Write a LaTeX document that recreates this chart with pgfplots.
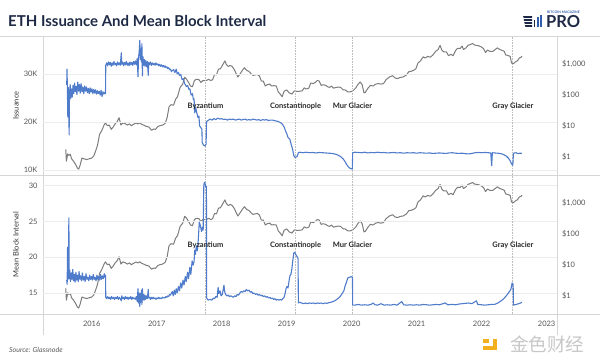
\documentclass[border=0pt]{standalone}
\usepackage{pgfplots}
\usepackage{pgfplotstable}
\pgfplotsset{compat=1.18}
\usepackage{fontspec}
\setmainfont{Lato}
\newfontfamily\cjk{Noto Sans CJK SC}
\definecolor{ethblue}{HTML}{4F7BCB}
\definecolor{ethgrey}{HTML}{7C7C7C}
\definecolor{titlecol}{HTML}{1E2A45}
\definecolor{framecol}{HTML}{D6D6D6}
\definecolor{gridcol}{HTML}{ECECEC}
\definecolor{dotcol}{HTML}{BDBDBD}
\definecolor{tickcol}{HTML}{555555}
\definecolor{logoblue}{HTML}{2F5DB0}
\definecolor{wmyellow}{HTML}{F2B01E}

\pgfplotstableread{
year price
2015.600 1.8
2015.610 0.75
2015.630 1.3
2015.650 1.15
2015.670 1.25
2015.690 0.9
2015.720 0.75
2015.750 0.6
2015.780 0.45
2015.800 0.42
2015.820 0.55
2015.850 0.95
2015.880 0.9
2015.920 0.85
2015.960 0.9
2016.000 0.95
2016.030 1.1
2016.060 1.6
2016.090 2.5
2016.120 5.5
2016.150 7
2016.190 11
2016.210 13
2016.240 10.5
2016.270 11
2016.300 8
2016.330 9.5
2016.360 12
2016.390 14
2016.420 19
2016.450 11
2016.480 13
2016.520 12
2016.550 11
2016.580 12
2016.610 10.5
2016.640 11.5
2016.680 12.8
2016.710 12
2016.740 13
2016.770 11.5
2016.800 11
2016.840 10
2016.880 9.5
2016.920 7.5
2016.950 8.2
2016.980 8
2017.020 10
2017.050 10.5
2017.090 11
2017.130 12.5
2017.160 19
2017.190 43
2017.220 50
2017.260 48
2017.290 75
2017.320 90
2017.360 180
2017.400 230
2017.430 380
2017.460 330
2017.490 260
2017.520 200
2017.550 190
2017.580 300
2017.610 330
2017.650 320
2017.680 260
2017.710 300
2017.740 300
2017.770 305
2017.800 330
2017.830 300
2017.860 320
2017.890 470
2017.920 460
2017.950 700
2017.980 720
2018.020 1000
2018.050 1300
2018.070 1000
2018.100 850
2018.130 920
2018.160 860
2018.190 700
2018.220 520
2018.250 390
2018.290 520
2018.320 650
2018.350 780
2018.380 650
2018.420 590
2018.450 500
2018.480 440
2018.520 460
2018.550 470
2018.580 420
2018.610 290
2018.640 290
2018.670 200
2018.700 220
2018.740 230
2018.770 200
2018.800 205
2018.840 200
2018.870 130
2018.900 110
2018.930 90
2018.960 135
2019.000 150
2019.040 120
2019.080 110
2019.120 140
2019.150 135
2019.190 135
2019.240 140
2019.270 175
2019.300 160
2019.340 170
2019.370 250
2019.410 240
2019.440 260
2019.470 300
2019.500 290
2019.530 210
2019.560 220
2019.600 210
2019.630 190
2019.660 180
2019.690 200
2019.720 170
2019.760 180
2019.800 185
2019.830 180
2019.870 150
2019.900 150
2019.940 130
2019.980 130
2020.020 140
2020.060 170
2020.100 230
2020.130 270
2020.160 225
2020.190 120
2020.210 125
2020.250 170
2020.290 210
2020.330 200
2020.370 230
2020.410 240
2020.450 230
2020.490 240
2020.530 320
2020.580 390
2020.630 430
2020.670 360
2020.710 350
2020.750 380
2020.790 390
2020.840 450
2020.880 580
2020.920 600
2020.960 650
2020.990 730
2021.020 1100
2021.060 1300
2021.100 1750
2021.130 1600
2021.170 1800
2021.210 1700
2021.250 2000
2021.290 2600
2021.330 3000
2021.360 4100
2021.390 2800
2021.420 2500
2021.460 2500
2021.490 1900
2021.530 2100
2021.560 1900
2021.600 2800
2021.630 3300
2021.670 3250
2021.700 3900
2021.720 3000
2021.760 3400
2021.790 4100
2021.820 4300
2021.860 4700
2021.890 4200
2021.920 4100
2021.950 4000
2021.990 3700
2022.030 3200
2022.060 2400
2022.090 2900
2022.130 2600
2022.170 2600
2022.210 3000
2022.240 3400
2022.280 3000
2022.320 2800
2022.350 2600
2022.370 2000
2022.400 1950
2022.440 1800
2022.460 1100
2022.490 1050
2022.520 1200
2022.550 1300
2022.580 1600
2022.610 1700
2022.620 1850
}\pricetab

\pgfplotstableread{
year iss
2015.615 27700
2015.620 31000
2015.625 27000
2015.632 21000
2015.638 27200
2015.645 26400
2015.652 17300
2015.658 25600
2015.668 27800
2015.678 24900
2015.690 26900
2015.700 25200
2015.712 27600
2015.724 25900
2015.736 28100
2015.748 26300
2015.760 27400
2015.772 25700
2015.785 28300
2015.798 26400
2015.810 27800
2015.823 26000
2015.836 28000
2015.850 26300
2015.864 27300
2015.878 25900
2015.892 27500
2015.906 26400
2015.920 27300
2015.934 26100
2015.948 27000
2015.962 25900
2015.976 27100
2015.990 26200
2016.004 26900
2016.018 25900
2016.032 26800
2016.046 26000
2016.060 26700
2016.074 25800
2016.088 26500
2016.102 25900
2016.116 26400
2016.130 25600
2016.144 26600
2016.158 25300
2016.172 26300
2016.186 25800
2016.200 26100
2016.212 25900
2016.216 31800
2016.230 32300
2016.244 31700
2016.258 32500
2016.272 31900
2016.286 32400
2016.300 31600
2016.314 32300
2016.328 31800
2016.342 32600
2016.356 31900
2016.370 32200
2016.384 31700
2016.398 32500
2016.412 31900
2016.426 32300
2016.440 31800
2016.455 34400
2016.462 32000
2016.476 32500
2016.490 31700
2016.504 32400
2016.518 31900
2016.532 32600
2016.546 31800
2016.560 32300
2016.574 31700
2016.588 32500
2016.602 31900
2016.616 32400
2016.630 31800
2016.644 32600
2016.658 32000
2016.672 32700
2016.686 31900
2016.700 33200
2016.712 29400
2016.720 33500
2016.730 34500
2016.740 37000
2016.748 33000
2016.756 35200
2016.764 32500
2016.772 36300
2016.780 29600
2016.788 33600
2016.798 31800
2016.808 33000
2016.818 31600
2016.830 32800
2016.842 31500
2016.856 32600
2016.870 29700
2016.876 32400
2016.890 31900
2016.904 32500
2016.918 31800
2016.932 32300
2016.946 31900
2016.960 32200
2016.974 31800
2016.988 32300
2017.002 31900
2017.016 32100
2017.030 31700
2017.044 32000
2017.058 31600
2017.072 31900
2017.086 31500
2017.100 31800
2017.114 31400
2017.128 31700
2017.142 31300
2017.156 31500
2017.170 31100
2017.184 31300
2017.198 30900
2017.212 31000
2017.226 30500
2017.240 30700
2017.260 30900
2017.280 30300
2017.300 31000
2017.315 30000
2017.335 30300
2017.350 29700
2017.370 29900
2017.390 28800
2017.410 29000
2017.430 28000
2017.455 27400
2017.475 27600
2017.495 26800
2017.510 26900
2017.530 25600
2017.550 25900
2017.565 24600
2017.575 24800
2017.585 21900
2017.600 23000
2017.615 22000
2017.635 20900
2017.650 21200
2017.660 19200
2017.680 18800
2017.695 18500
2017.700 15700
2017.720 15200
2017.745 15000
2017.760 15400
2017.766 20100
2017.790 20300
2017.820 20600
2017.850 20400
2017.880 20700
2017.910 20500
2017.940 20800
2017.970 20600
2018.000 20700
2018.030 20500
2018.060 20600
2018.090 20400
2018.120 20600
2018.150 20500
2018.180 20600
2018.210 20400
2018.240 20500
2018.270 20600
2018.300 20400
2018.330 20500
2018.360 20600
2018.390 20400
2018.420 20500
2018.450 20400
2018.480 20600
2018.510 20500
2018.540 20400
2018.570 20500
2018.600 20300
2018.630 20500
2018.660 20400
2018.690 20500
2018.720 20300
2018.750 20400
2018.780 20400
2018.810 20300
2018.840 20200
2018.870 20100
2018.900 19900
2018.930 19600
2018.960 19000
2018.980 18200
2019.000 17600
2019.020 16800
2019.050 16400
2019.070 15300
2019.090 14400
2019.110 13000
2019.130 12600
2019.160 12800
2019.180 13600
2019.200 13700
2019.250 13600
2019.300 13700
2019.350 13600
2019.400 13650
2019.450 13550
2019.500 13650
2019.550 13600
2019.600 13550
2019.650 13500
2019.700 13450
2019.750 13300
2019.790 13100
2019.830 12800
2019.870 12300
2019.900 11700
2019.930 11000
2019.960 10500
2019.985 10300
2020.010 10200
2020.016 13600
2020.050 13700
2020.100 13650
2020.150 13600
2020.200 13700
2020.250 13550
2020.300 13650
2020.350 13600
2020.400 13700
2020.450 13600
2020.500 13650
2020.550 13550
2020.600 13600
2020.650 13650
2020.700 13550
2020.750 13600
2020.800 13500
2020.850 13600
2020.900 13550
2020.950 13600
2021.000 13500
2021.050 13600
2021.100 13550
2021.150 13500
2021.200 13550
2021.250 13450
2021.300 13500
2021.350 13550
2021.400 13500
2021.450 13450
2021.500 13550
2021.550 13600
2021.600 13500
2021.650 13450
2021.700 13500
2021.750 13400
2021.800 13350
2021.850 13450
2021.900 13600
2021.950 13650
2022.000 13600
2022.050 13650
2022.100 13600
2022.140 13550
2022.155 10900
2022.165 13600
2022.200 13550
2022.250 13500
2022.300 13400
2022.340 13200
2022.380 12900
2022.410 12500
2022.440 11900
2022.460 11300
2022.480 11000
2022.490 13500
2022.530 13600
2022.560 13400
2022.590 13500
2022.620 13450
}\isstab

\pgfplotstableread{
year bt
2015.615 16.8
2015.622 16.2
2015.628 21.4
2015.634 16.9
2015.640 17.4
2015.648 25.5
2015.654 17.0
2015.662 18.2
2015.672 16.6
2015.684 17.8
2015.696 16.9
2015.708 18.3
2015.720 16.7
2015.732 17.6
2015.744 16.5
2015.756 17.9
2015.768 16.8
2015.780 17.5
2015.792 16.6
2015.805 18.0
2015.818 16.9
2015.830 17.4
2015.843 16.7
2015.856 17.8
2015.870 16.8
2015.884 17.3
2015.898 16.6
2015.912 17.7
2015.926 16.9
2015.940 17.2
2015.954 16.7
2015.968 17.5
2015.982 16.9
2015.996 17.3
2016.010 16.8
2016.024 17.6
2016.038 16.9
2016.052 17.2
2016.066 16.7
2016.080 17.5
2016.094 16.9
2016.108 17.3
2016.122 16.8
2016.136 17.6
2016.150 16.9
2016.164 17.4
2016.178 17.0
2016.192 17.7
2016.204 17.2
2016.212 17.5
2016.216 14.4
2016.230 14.2
2016.245 14.5
2016.260 14.2
2016.275 14.4
2016.290 14.1
2016.305 14.5
2016.320 14.2
2016.335 14.4
2016.350 14.1
2016.365 14.4
2016.380 14.2
2016.395 14.5
2016.410 14.1
2016.425 14.4
2016.440 14.2
2016.455 13.9
2016.462 14.6
2016.476 14.2
2016.490 14.4
2016.504 14.1
2016.518 14.5
2016.532 14.2
2016.546 14.4
2016.560 14.1
2016.574 14.4
2016.588 14.2
2016.602 14.5
2016.616 14.1
2016.630 14.4
2016.644 14.2
2016.658 14.3
2016.672 14.1
2016.686 14.5
2016.700 13.8
2016.712 15.6
2016.720 13.6
2016.730 15.0
2016.740 13.1
2016.748 14.9
2016.756 13.7
2016.764 15.4
2016.772 13.4
2016.780 15.6
2016.788 14.0
2016.798 14.8
2016.808 14.0
2016.818 14.7
2016.830 14.1
2016.842 14.6
2016.856 14.2
2016.870 15.5
2016.876 14.3
2016.890 14.4
2016.904 14.1
2016.918 14.4
2016.932 14.2
2016.946 14.4
2016.960 14.2
2016.974 14.3
2016.988 14.1
2017.002 14.3
2017.016 14.2
2017.030 14.4
2017.044 14.2
2017.058 14.3
2017.072 14.2
2017.086 14.4
2017.100 14.3
2017.114 14.4
2017.128 14.3
2017.142 14.5
2017.156 14.4
2017.170 14.6
2017.184 14.5
2017.198 14.8
2017.212 14.7
2017.226 15.0
2017.240 15.2
2017.255 14.6
2017.270 15.4
2017.285 14.8
2017.300 15.6
2017.315 15.0
2017.335 15.9
2017.350 15.3
2017.370 16.4
2017.385 15.7
2017.405 16.8
2017.420 16.1
2017.440 17.3
2017.455 16.6
2017.475 17.9
2017.490 17.0
2017.510 18.6
2017.525 17.6
2017.545 19.5
2017.560 18.9
2017.575 19.4
2017.585 21.0
2017.595 20.4
2017.610 21.6
2017.625 20.9
2017.640 22.5
2017.655 24.9
2017.670 24.5
2017.690 23.6
2017.705 24.2
2017.715 23.8
2017.725 30.2
2017.740 30.5
2017.755 29.8
2017.765 29.9
2017.768 14.3
2017.790 14.0
2017.820 14.1
2017.850 14.0
2017.870 14.3
2017.890 14.2
2017.910 14.5
2017.930 14.4
2017.945 15.8
2017.955 14.9
2017.975 15.3
2017.990 14.6
2018.010 14.8
2018.035 16.1
2018.045 15.2
2018.060 14.8
2018.080 14.6
2018.100 14.7
2018.120 14.5
2018.140 14.6
2018.160 14.5
2018.180 14.4
2018.200 14.6
2018.220 14.5
2018.240 14.8
2018.260 14.7
2018.280 15.0
2018.300 15.2
2018.320 15.1
2018.340 15.3
2018.360 15.2
2018.380 15.5
2018.400 15.3
2018.420 15.4
2018.440 15.1
2018.460 15.2
2018.480 14.9
2018.500 15.0
2018.520 14.8
2018.540 14.9
2018.560 14.7
2018.580 14.8
2018.600 14.6
2018.620 14.7
2018.640 14.5
2018.660 14.6
2018.680 14.4
2018.700 14.5
2018.720 14.3
2018.740 14.4
2018.760 14.2
2018.780 14.3
2018.800 14.1
2018.820 14.2
2018.840 14.0
2018.860 14.1
2018.880 14.0
2018.900 14.1
2018.920 14.0
2018.940 14.2
2018.960 14.4
2018.975 14.9
2018.990 15.6
2019.005 15.9
2019.020 15.7
2019.035 16.6
2019.050 17.4
2019.065 17.6
2019.080 18.4
2019.095 19.6
2019.110 20.6
2019.125 20.7
2019.145 20.3
2019.165 20.0
2019.175 19.8
2019.180 13.6
2019.200 13.7
2019.230 13.6
2019.260 13.5
2019.290 13.6
2019.320 13.5
2019.350 13.6
2019.380 13.55
2019.410 13.6
2019.440 13.5
2019.470 13.6
2019.500 13.55
2019.530 13.6
2019.560 13.5
2019.590 13.6
2019.620 13.55
2019.650 13.65
2019.680 13.7
2019.710 13.8
2019.740 13.9
2019.770 14.1
2019.800 14.3
2019.830 14.6
2019.860 15.0
2019.880 15.3
2019.900 16.0
2019.920 16.5
2019.940 17.1
2019.970 17.2
2020.000 17.3
2020.012 17.2
2020.016 13.3
2020.050 13.3
2020.100 13.4
2020.150 13.3
2020.200 13.35
2020.250 13.3
2020.300 13.4
2020.330 13.6
2020.360 13.35
2020.400 13.3
2020.450 13.5
2020.500 13.3
2020.550 13.35
2020.600 13.3
2020.650 13.4
2020.700 13.3
2020.770 13.8
2020.800 13.35
2020.850 13.3
2020.900 13.35
2020.950 13.3
2021.000 13.35
2021.050 13.3
2021.100 13.4
2021.150 13.35
2021.200 13.3
2021.250 13.35
2021.300 13.4
2021.350 13.35
2021.440 13.6
2021.480 13.35
2021.550 13.4
2021.600 13.35
2021.650 13.45
2021.700 13.5
2021.750 13.55
2021.800 13.6
2021.850 13.5
2021.920 13.9
2021.940 13.4
2022.000 13.35
2022.050 13.3
2022.100 13.35
2022.150 13.4
2022.200 13.4
2022.250 13.6
2022.300 13.9
2022.340 14.2
2022.380 14.6
2022.420 15.1
2022.450 15.5
2022.470 16.4
2022.485 16.2
2022.490 13.3
2022.530 13.4
2022.570 13.5
2022.600 13.6
2022.620 13.7
}\bttab

\pgfplotsset{
  mybase/.style={
    scale only axis, width=514pt, height=139pt,
    xmin=2015.25, xmax=2023.16,
    axis line style={draw=none}, tick style={draw=none}, major tick length=0pt,
    scaled y ticks=false, scaled x ticks=false,
    /pgf/number format/assume math mode=true,
    ticklabel style={font=\fontsize{7.5}{9}\selectfont, text=tickcol},
  },
  myleft/.style={
    mybase,
    ymajorgrids, major grid style={gridcol, line width=0.6pt},
    extra x ticks={2017.75,2019.14,2020.015,2022.48},
    extra x tick labels={},
    extra x tick style={grid=major, major grid style={dotcol, densely dotted, line width=0.7pt}},
    yticklabel style={xshift=-2pt},
  },
  myright/.style={
    mybase, xtick=\empty,
    ytick={1,10,100,1000}, yticklabels={\$1,\$10,\$100,{\$1,000}},
    yticklabel pos=right, yticklabel style={xshift=1.5pt},
  },
}

\begin{document}
\begin{tikzpicture}
\begin{scope}[x=1pt,y=1pt]
\useasboundingbox (0,0) rectangle (600,360);
% frame lines
\draw[framecol, line width=0.7pt] (0,324) -- (600,324);
\draw[framecol, line width=0.7pt] (0,185) -- (600,185);
\draw[framecol, line width=0.7pt] (0,46) -- (600,46);
\draw[framecol, line width=0.7pt] (43,324) -- (43,25);
\draw[framecol, line width=0.7pt] (557,324) -- (557,25);

% title
\node[anchor=base west, inner sep=0, font=\fontsize{15}{18}\selectfont\bfseries, text=titlecol] at (8,334) {ETH Issuance And Mean Block Interval};

% logo
\fill[titlecol] (523,344) -- (532,344) -- (532,342.2) -- (523.6,342.2) -- cycle;
\fill[titlecol] (523.6,341) -- (532,341) -- (532,339.2) -- (524.2,339.2) -- cycle;
\fill[titlecol] (524.2,338) -- (532,338) -- (532,336.2) -- (524.8,336.2) -- cycle;
\fill[titlecol] (524.8,335) -- (532,335) -- (532,333.2) -- (525.4,333.2) -- cycle;
\fill[titlecol] (533.5,333.2) rectangle (535.3,340);
\fill[logoblue] (536.8,333.2) rectangle (538.6,343);
\fill[logoblue] (540.1,333.2) rectangle (541.9,345);
\node[anchor=base west, inner sep=0, font=\fontsize{16.5}{18}\selectfont\bfseries, text=titlecol] at (546,333) {PRO};
\node[anchor=base west, inner sep=0, font=\fontsize{3.4}{4}\selectfont\bfseries, text=logoblue] at (547,346.5) {BITCOIN MAGAZINE};

% axis titles
\node[rotate=90, font=\fontsize{7.5}{9}\selectfont, text=black!80] at (16,254.5) {Issuance};
\node[rotate=90, font=\fontsize{7.5}{9}\selectfont, text=black!80] at (16,115.5) {Mean Block Interval};
\end{scope}

% ---------- top panel ----------
\begin{axis}[myright, ymode=log, ymin=0.27, ymax=8200, at={(43pt,185pt)}, anchor=south west]
\addplot[ethgrey, line width=1pt, line join=round] table[x=year, y=price] {\pricetab};
\end{axis}
\begin{axis}[myleft, at={(43pt,185pt)}, anchor=south west,
  xtick=\empty,
  ymin=8960, ymax=37900, ytick={10000,20000,30000}, yticklabels={10K,20K,30K}]
\addplot[ethblue, line width=1.1pt, line join=round] table[x=year, y=iss] {\isstab};
\end{axis}

% ---------- bottom panel ----------
\begin{axis}[myright, ymode=log, ymin=0.27, ymax=8200, at={(43pt,46pt)}, anchor=south west]
\addplot[ethgrey, line width=1pt, line join=round] table[x=year, y=price] {\pricetab};
\end{axis}
\begin{axis}[myleft, at={(43pt,46pt)}, anchor=south west,
  xtick={2016,2017,2018,2019,2020,2021,2022,2023},
  xticklabels={2016,2017,2018,2019,2020,2021,2022,2023},
  xticklabel style={yshift=-4pt},
  ymin=12.06, ymax=31.5, ytick={15,20,25,30}]
\addplot[ethblue, line width=1.1pt, line join=round] table[x=year, y=bt] {\bttab};
\end{axis}

\begin{scope}[x=1pt,y=1pt]
% fork annotations
\foreach \xx/\lab in {205.5/Byzantium, 295.5/Constantinople, 352.5/Mur Glacier, 513/Gray Glacier}{
  \node[font=\fontsize{7.5}{9}\selectfont\bfseries, text=black!85, inner sep=1pt] at (\xx,254) {\lab};
  \node[font=\fontsize{7.5}{9}\selectfont\bfseries, text=black!85, inner sep=1pt] at (\xx,115) {\lab};
}

% source
\node[anchor=west, inner sep=0, font=\fontsize{7}{8}\selectfont\itshape, text=black!65] at (9,10.5) {Source: Glassnode};

% watermark
\fill[wmyellow] (483,10) rectangle (497,14.5);
\fill[wmyellow] (492.5,10) rectangle (497,21.5);
\fill[wmyellow] (483,17) rectangle (488.5,21.5);
\node[anchor=west, inner sep=0, font=\cjk\fontsize{18.5}{20}\selectfont, text=black!22] at (510,15.5) {金色财经};
\end{scope}
\end{tikzpicture}
\end{document}
